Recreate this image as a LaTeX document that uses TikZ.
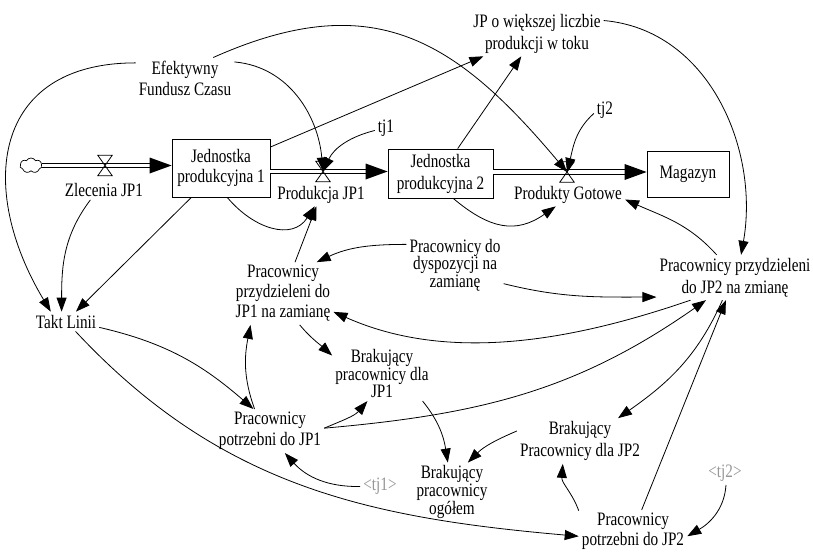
\documentclass[tikz,border=0pt]{standalone}
\usepackage{fontspec}
\setmainfont{Liberation Serif}[FakeStretch=0.8]
\usetikzlibrary{arrows.meta,shapes.symbols,calc}
\definecolor{tjgray}{RGB}{150,150,150}
\newcommand\vfont[1]{\fontsize{19}{#1}\selectfont\lineskiplimit=-100pt\relax}
\begin{document}
\begin{tikzpicture}[x=1pt,y=1pt,
  lbl/.style={align=center, inner sep=3pt, font=\vfont{21}},
  ghost/.style={lbl, text=tjgray},
  stock/.style={draw, line width=0.8pt, align=center, inner sep=2pt, font=\vfont{20}},
  valve/.style={minimum width=14pt, minimum height=20pt, inner sep=0pt},
  valveshape/.style={line width=0.8pt},
  conn/.style={line width=0.8pt, -{Triangle[length=14pt,width=10pt]}},
  pipe/.style={double, double distance=3.4pt, line width=0.9pt}]
\useasboundingbox (0,0) rectangle (813,-552);

% stocks, cloud, valves
\node[cloud, draw, cloud puffs=7, cloud puff arc=120, aspect=1.5, minimum width=22pt, minimum height=15pt, inner sep=0pt, line width=0.7pt] (cloud) at (31,-165.5) {};
\node[stock, minimum width=98pt, minimum height=58pt] (box1) at (221,-168) {Jednostka\\produkcyjna 1};
\node[stock, minimum width=105pt, minimum height=49pt, font=\vfont{22}] (box2) at (440.5,-173.5) {Jednostka\\produkcyjna 2};
\node[stock, minimum width=82pt, minimum height=46pt] (mag) at (688,-174) {Magazyn};
\node[valve] (v1) at (105,-165.5) {};
\node[valve] (v2) at (323,-171.5) {};
\node[valve] (v3) at (567,-172) {};

% labels / variables
\node[lbl] (zlec) at (104,-190) {Zlecenia JP1};
\node[lbl] (prod1) at (321,-194.5) {Produkcja JP1};
\node[lbl] (prodG) at (568,-194.5) {Produkty Gotowe};
\node[lbl] (efc) at (185,-78) {Efektywny\\Fundusz Czasu};
\node[lbl, font=\vfont{22}] (jpw) at (537,-33.5) {JP o większej liczbie\\produkcji w toku};
\node[lbl] (tj1) at (386,-128.5) {tj1};
\node[lbl] (tj2) at (605,-110.5) {tj2};
\node[lbl, font=\vfont{20}] (pp1) at (283,-293.5) {Pracownicy\\przydzieleni do\\JP1 na zamianę};
\node[lbl, font=\vfont{17.5}] (pdysp) at (455,-265) {Pracownicy do\\dyspozycji na\\zamianę};
\node[lbl, font=\vfont{22}] (pp2) at (735,-277.5) {Pracownicy przydzieleni\\do JP2 na zmianę};
\node[lbl] (takt) at (66,-321.5) {Takt Linii};
\node[lbl, font=\vfont{17.5}] (bp1) at (382,-373.7) {Brakujący\\pracownicy dla\\JP1};
\node[lbl] (ppot1) at (270,-431) {Pracownicy\\potrzebni do JP1};
\node[ghost] (tj1r) at (380,-486.5) {<tj1>};
\node[lbl, font=\vfont{18}] (bpo) at (452,-492.4) {Brakujący\\pracownicy\\ogółem};
\node[lbl, font=\vfont{22}] (bp2) at (580,-441) {Brakujący\\Pracownicy dla JP2};
\node[ghost] (tj2r) at (725,-473.5) {<tj2>};
\node[lbl, font=\vfont{20}] (ppot2) at (633,-531.5) {Pracownicy\\potrzebni do JP2};

% pipes
\draw[pipe] (cloud.east) -- ($(box1.west |- cloud.east)+(-20,0)$);
\fill (box1.west |- cloud.east) -- ++(-22,8) -- ++(0,-16) -- cycle;
\draw[pipe] (box1.east |- v2.center) -- ($(box2.west |- v2.center)+(-20,0)$);
\fill (box2.west |- v2.center) -- ++(-22,8) -- ++(0,-16) -- cycle;
\draw[pipe] (box2.east |- v3.center) -- ($(mag.west |- v3.center)+(-20,0)$);
\fill (mag.west |- v3.center) -- ++(-22,8) -- ++(0,-16) -- cycle;
\foreach \v in {v1,v2,v3}
  \draw[valveshape] (\v.north west) -- (\v.north east) -- (\v.south west) -- (\v.south east) -- cycle;

% connectors
\draw[conn] (efc.163) to[out=180,in=121,looseness=1.4] (takt.147);
\draw[conn] (efc.18) to[out=-5,in=95] (v2.center);
\draw[conn] (efc.36) to[out=24,in=130,looseness=1.2] (v3.center);
\draw[conn] (box1) -- (jpw);
\draw[conn] (box2) -- (jpw);
\draw[conn] (jpw.11) to[out=-5,in=80] (pp2.75);
\draw[conn] (zlec.-144) to[out=-127,in=90] (takt.114);
\draw[conn] (box1) -- (takt);
\draw[conn] (box1.-78) to[out=-50,in=237,looseness=1.2] (prod1.-118);
\draw[conn] (tj1.190) to[out=194,in=65] (v2.center);
\draw[conn] (box2.-63) to[out=-40,in=215,looseness=1.2] (prodG.-136);
\draw[conn] (tj2.195) to[out=222,in=76] (v3.center);
\draw[conn] (pp2.129) to[out=132,in=-24] (prodG.-5);
\draw[conn] (pp1) -- (prod1);
\draw[conn] (pdysp.157) to[out=180,in=25] (pp1.43);
\draw[conn] (pdysp.-21) to[out=-14,in=180] (pp2.194);
\draw[conn] (pp2.207) to[out=199,in=-24,looseness=0.9] (pp1.-20);
\draw[conn] (pp1.-62) to[out=-50,in=138] (bp1.160);
\draw[conn] (ppot1.125) to[out=110,in=259] (pp1.224);
\draw[conn] (takt.-10) to[out=-13,in=139] (ppot1.127);
\draw[conn] (takt.-46) to[out=-47,in=175] (ppot2.185);
\draw[conn] (ppot1.3) to[out=23,in=229] (bp1.242);
\draw[conn] (ppot1.3) to[out=5,in=215] (pp2.218);
\draw[conn] (pp2.241) to[out=246,in=35] (bp2.31);
\draw[conn] (ppot2) -- (pp2);
\draw[conn] (bp2.171) to[out=203,in=45] (bpo.62);
\draw[conn] (bp1.-34) to[out=-51,in=99] (bpo.98);
\draw[conn] (ppot2.159) to[out=110,in=266] (bp2.233);
\draw[conn] (tj2r.-85) to[out=-94,in=30] (ppot2.-5);
\draw[conn] (tj1r.180) to[out=181,in=312] (ppot1.-56);
\end{tikzpicture}
\end{document}
